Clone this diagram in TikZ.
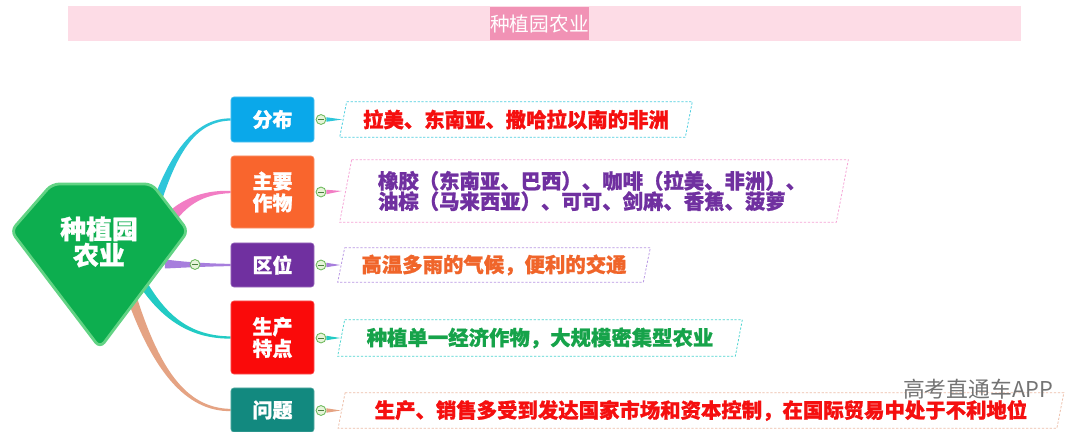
\documentclass[tikz,border=0pt]{standalone}
\usepackage{fontspec}
\setmainfont{Noto Sans CJK SC}[BoldFeatures={FakeBold=1}]
\usetikzlibrary{calc,backgrounds}

\definecolor{titlebar}{HTML}{FDDCE6}
\definecolor{titlebox}{HTML}{F192B5}
\definecolor{gemfill}{HTML}{0DAE4F}
\definecolor{gemline}{HTML}{62D384}
\definecolor{fenbuC}{HTML}{0AA8EA}
\definecolor{zuowuC}{HTML}{F9652D}
\definecolor{quweiC}{HTML}{7030A0}
\definecolor{tedianC}{HTML}{FA0A0A}
\definecolor{wentiC}{HTML}{12897F}
\definecolor{cyanB}{HTML}{2EC6DA}
\definecolor{pinkB}{HTML}{F27DC4}
\definecolor{purpleB}{HTML}{A77EDD}
\definecolor{tealB}{HTML}{22CBC4}
\definecolor{tanB}{HTML}{E5A383}
\definecolor{leafred}{HTML}{F50F0F}
\definecolor{leafpurple}{HTML}{7030A0}
\definecolor{leaforange}{HTML}{F0652A}
\definecolor{leafgreen}{HTML}{16A34A}
\definecolor{togline}{HTML}{6BB85A}
\definecolor{togfill}{HTML}{E6F4D9}

\tikzset{
  topic/.style={fill=#1, draw=#1!70!white, rounded corners=2pt, minimum width=2.075cm,
    text=white, font=\bfseries\fontsize{14.2}{15.5}\selectfont, align=center, inner sep=0pt},
  leaf/.style={text=#1, font=\bfseries\fontsize{14.5}{14.5}\selectfont, align=left, inner sep=0pt},
  leafline/.style={dash pattern=on 1.6pt off 1.2pt, line width=0.55pt},
  tog/.style={circle, draw=togline, fill=togfill, line width=0.6pt, minimum size=7pt, inner sep=0pt,
    path picture={\draw[togline!70!black, line width=0.6pt]
      ([xshift=-2pt]path picture bounding box.center) -- ([xshift=2pt]path picture bounding box.center);}},
}

% tapered branch: colour, from, to, half width (pt)
\newcommand\branch[4]{%
  \coordinate (b0) at (#2);
  \coordinate (b3) at (#3);
  \coordinate (q1) at ($(b0)!0.25!(b3)$);
  \coordinate (q2) at ($(b0)!0.65!(b3)$);
  \coordinate (q3) at ($(b0)!0.55!(b3)$);
  \coordinate (c1) at (q1 |- q2);
  \coordinate (c2) at (q3 |- b3);
  \pgfmathsetmacro\bwa{0.7*#4}
  \pgfmathsetmacro\bwb{0.35*#4}
  \fill[#1] ($(b0)!#4pt!90:(c1)$) .. controls ($(c1)!\bwa pt!-90:(b0)$) and ($(c2)+(0pt,\bwb pt)$) .. ($(b3)+(0pt,0.8pt)$)
    -- ($(b3)+(0pt,-0.8pt)$) .. controls ($(c2)+(0pt,-\bwb pt)$) and ($(c1)!\bwa pt!90:(b0)$) .. ($(b0)!#4pt!-90:(c1)$) -- cycle;
}
% slanted dashed frame round a leaf
\newcommand\leafframe[3]{%
  \draw[leafline,#2] ($(#1.north west)+(#3,0)$) -- ($(#1.north east)+(#3,0)$)
    -- ($(#1.south east)-(#3,0)$) -- ($(#1.south west)-(#3,0)$) -- cycle;
}

\begin{document}
\begin{tikzpicture}[x=0.025cm,y=-0.025cm]
  \useasboundingbox (0,0) rectangle (1080,432);
  % Title
  \fill[titlebar] (68,6) rectangle (1021,41);
  \node[fill=titlebox, text=white, inner xsep=0pt, minimum height=0.825cm,
    font=\fontsize{14}{14}\selectfont] (title) at (539.5,23.5) {种植园农业};
  % Gem
  \filldraw[fill=gemfill, draw=gemline, line width=2pt, rounded corners=5pt]
    (11,231) -- (52,184) -- (152,184) -- (188,231) -- (100,348) -- cycle;
  \node[text=white, font=\bfseries\fontsize{18.4}{18.6}\selectfont, align=center] (gem) at (99,242) {种植园\\农业};
  % Topics
  \node[topic=fenbuC, minimum height=1.125cm] (fenbu) at (272.5,119.5) {分布};
  \node[topic=zuowuC, minimum height=1.8cm] (zuowu) at (272.5,192) {主要\\作物};
  \node[topic=quweiC, minimum height=1.1cm] (quwei) at (272.5,265) {区位};
  \node[topic=tedianC, minimum height=1.825cm] (tedian) at (272.5,337.5) {生产\\特点};
  \node[topic=wentiC, minimum height=1.1cm] (wenti) at (272.5,410) {问题};
  % Leaves
  \node[leaf=leafred, minimum width=8.625cm, minimum height=0.875cm] (fenbuL) at (516,119.5) {拉美、东南亚、撒哈拉以南的非洲};
  \node[leaf=leafpurple, minimum width=12.4cm, minimum height=1.55cm, text width=10.8cm] (zuowuL) at (594,191)
    {橡胶（东南亚、巴西）、咖啡（拉美、非洲）、\\油棕（马来西亚）、可可、剑麻、香蕉、菠萝};
  \node[leaf=leaforange, minimum width=7.625cm, minimum height=0.85cm] (quweiL) at (494,265) {高温多雨的气候，便利的交通};
  \node[leaf=leafgreen, minimum width=9.925cm, minimum height=0.9cm] (tedianL) at (540,338) {种植单一经济作物，大规模密集型农业};
  \node[leaf=leafred, minimum width=17.95cm, minimum height=0.875cm] (wentiL) at (701,410.5)
    {生产、销售多受到发达国家市场和资本控制，在国际贸易中处于不利地位};
  \leafframe{fenbuL}{cyanB!85}{3.5}
  \leafframe{zuowuL}{pinkB!70}{6}
  \leafframe{quweiL}{purpleB!80}{3.5}
  \leafframe{tedianL}{tealB!80}{3.5}
  \leafframe{wentiL}{tanB!70}{3.5}
  % Togglers
  \node[tog] (fenbuT) at (321,119.5) {};
  \node[tog] (zuowuT) at (321,192) {};
  \node[tog] (quweiT) at (321,265) {};
  \node[tog] (tedianT) at (321,338) {};
  \node[tog] (wentiT) at (321,410.5) {};
  \fill[cyanB] ($(fenbuT.east)+(0pt,1.6pt)$) -- ($(fenbuL.west)+(-1,0)$) -- ($(fenbuT.east)+(0pt,-1.6pt)$) -- cycle;
  \fill[pinkB] ($(zuowuT.east)+(0pt,1.6pt)$) -- ($(zuowuL.west)+(-4,0)$) -- ($(zuowuT.east)+(0pt,-1.6pt)$) -- cycle;
  \fill[purpleB] ($(quweiT.east)+(0pt,1.6pt)$) -- ($(quweiL.west)+(-1,0)$) -- ($(quweiT.east)+(0pt,-1.6pt)$) -- cycle;
  \fill[tealB] ($(tedianT.east)+(0pt,1.6pt)$) -- ($(tedianL.west)+(-1,0)$) -- ($(tedianT.east)+(0pt,-1.6pt)$) -- cycle;
  \fill[tanB] ($(wentiT.east)+(0pt,1.6pt)$) -- ($(wentiL.west)+(-1,0)$) -- ($(wentiT.east)+(0pt,-1.6pt)$) -- cycle;
  % Branches
  \begin{scope}[on background layer]
    \fill[white] (0,0) rectangle (1080,432);
    \branch{cyanB}{$(gem)+(57,-37)$}{fenbu.west}{3}
    \branch{pinkB}{$(gem)+(68,-20)$}{zuowu.west}{4.5}
    \branch{purpleB}{$(gem)+(66,22)$}{quwei.west}{3.2}
    \branch{tealB}{$(gem)+(43,40)$}{tedian.west}{3}
    \branch{tanB}{$(gem)+(31,50)$}{wenti.west}{3.5}
  \end{scope}
  \node[tog] (quweiM) at (195,264.5) {};
  % Watermark
  \node[text=black!55, font=\fontsize{15.5}{15.5}\selectfont] (mark) at (978,389) {高考直通车APP};
\end{tikzpicture}
\end{document}
